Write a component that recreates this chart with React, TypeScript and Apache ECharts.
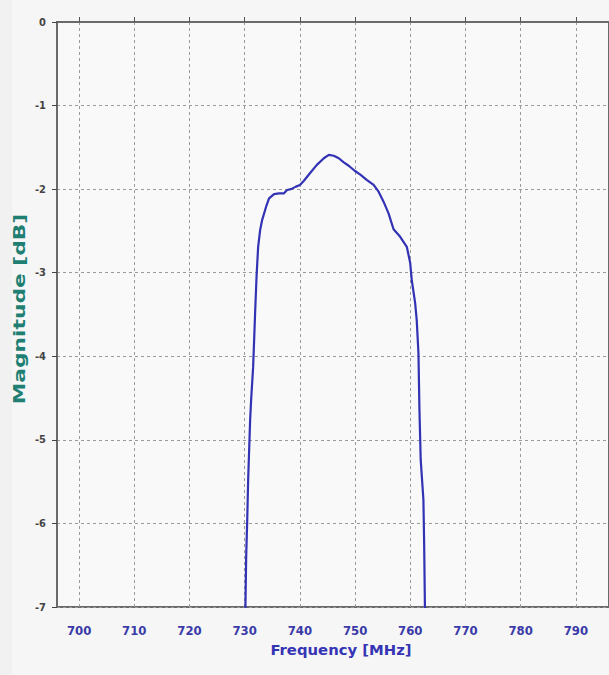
import React, { useEffect, useRef } from "react";
import * as echarts from "echarts";

const freqMHz: number[] = [
  730.09, 730.27, 730.45, 730.63, 730.99, 731.17, 731.53, 731.71, 731.89, 732.16,
  732.44, 732.8, 733.16, 733.88, 734.42, 735.32, 736.22, 737.13, 737.67, 738.39,
  739.29, 740.01, 740.73, 741.82, 743.08, 744.34, 745.24, 746.14, 747.05, 747.95,
  748.85, 749.93, 751.01, 752.1, 753.36, 754.26, 755.16, 756.06, 756.97, 758.17,
  759.37, 759.98, 760.27, 760.88, 761.17, 761.48, 761.66, 761.89, 762.38, 762.51,
  762.69,
];
const magnitudeDb: number[] = [
  -7.2, -6.4, -5.99, -5.48, -4.76, -4.52, -4.13, -3.81, -3.48, -3.03,
  -2.69, -2.49, -2.37, -2.21, -2.11, -2.06, -2.05, -2.05, -2.01, -2.0,
  -1.97, -1.95, -1.9, -1.81, -1.71, -1.63, -1.59, -1.6, -1.63, -1.68,
  -1.72, -1.78, -1.83, -1.89, -1.95, -2.03, -2.15, -2.29, -2.48, -2.57,
  -2.69, -2.88, -3.09, -3.36, -3.57, -3.96, -4.64, -5.24, -5.72, -6.23,
  -7.2,
];
const xTickLabels: number[] = [700, 710, 720, 730, 740, 750, 760, 770, 780, 790];
const yTickLabels: number[] = [0, -1, -2, -3, -4, -5, -6, -7];
const xAxisTitle = "Frequency [MHz]";
const yAxisTitle = "Magnitude [dB]";

export default function App() {
  const ref = useRef<HTMLDivElement>(null);
  useEffect(() => {
    if (!ref.current) return;
    const chart = echarts.init(ref.current, null, { renderer: "svg" });
    const data = freqMHz.map((f, i) => [f, magnitudeDb[i]]);
    const gridLine = { show: true, lineStyle: { color: "#9a9a9a", width: 1, type: [3, 3] as any } };
    chart.setOption({
      animation: false,
      backgroundColor: "#f6f6f6",
      graphic: [
        {
          type: "rect",
          left: 0,
          top: 0,
          shape: { width: 12, height: 675 },
          style: { fill: "#f1f1f1" },
          silent: true,
          z: -10,
        },
        {
          type: "text",
          x: 341,
          y: 650,
          scaleX: 1.06,
          style: {
            text: xAxisTitle,
            fill: "#3434b4",
            font: "bold 14px 'DejaVu Sans'",
            align: "center",
            verticalAlign: "middle",
          },
        },
        {
          type: "text",
          x: 20,
          y: 309,
          rotation: Math.PI / 2,
          scaleX: 1.45,
          style: {
            text: yAxisTitle,
            fill: "#1f7f72",
            font: "bold 15px 'DejaVu Sans'",
            align: "center",
            verticalAlign: "middle",
          },
        },
      ],
      grid: {
        left: 57,
        top: 22,
        bottom: 68,
        right: -2,
        show: true,
        backgroundColor: "#f9f9f9",
        borderColor: "#6a6a6a",
        borderWidth: 2,
      },
      xAxis: {
        type: "value",
        min: 696,
        max: 796,
        axisLine: { show: true, lineStyle: { color: "#6a6a6a", width: 2 } },
        axisTick: { show: true, inside: true, length: 5, customValues: xTickLabels, lineStyle: { color: "#555" } },
        axisLabel: {
          margin: 17,
          color: "#3a3aa8",
          fontFamily: "DejaVu Sans Condensed",
          fontWeight: "bold",
          fontSize: 13,
          customValues: xTickLabels,
        },
        splitLine: gridLine,
      },
      yAxis: {
        type: "value",
        min: -7,
        max: 0,
        interval: 1,
        axisLine: { show: true, lineStyle: { color: "#6a6a6a", width: 2 } },
        axisTick: { show: true, inside: false, length: 5, lineStyle: { color: "#444" } },
        axisLabel: {
          margin: 11,
          color: "#444",
          fontFamily: "DejaVu Sans Condensed",
          fontWeight: "bold",
          fontSize: 11,
          formatter: (v: number) => (yTickLabels.includes(v) ? String(v) : ""),
        },
        splitLine: gridLine,
      },
      series: [
        {
          type: "line",
          data,
          showSymbol: false,
          smooth: false,
          clip: true,
          lineStyle: { color: "#3232b4", width: 2.2 },
        },
      ],
    });
    return () => chart.dispose();
  }, []);
  return (
    <div
      ref={ref}
      style={{ position: "fixed", left: 0, top: 0, width: 609, height: 675 }}
    />
  );
}
